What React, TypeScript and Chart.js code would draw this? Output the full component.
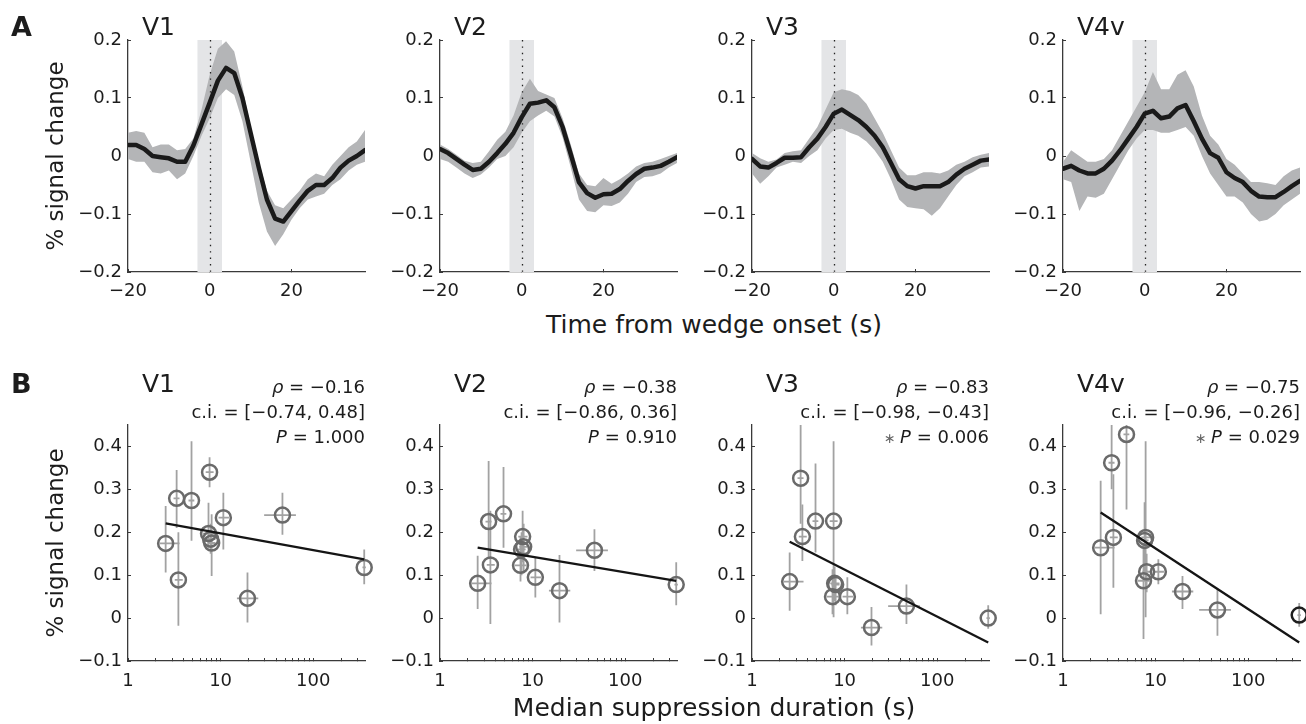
import React, { useEffect, useRef } from 'react';
import { Chart, registerables } from 'chart.js';

Chart.register(...registerables);

// ---------------- data ----------------
const AREAS = ['V1', 'V2', 'V3', 'V4v'];

// Panel A: event-related time courses
const TIME = [-20, -18, -16, -14, -12, -10, -8, -6, -4, -2, 0, 2, 4, 6, 8, 10, 12, 14, 16, 18, 20, 22, 24, 26, 28, 30, 32, 34, 36, 38];
const STIM_WINDOW = [-3, 3];
const WEDGE_ONSET = 0;
const TIME_TICKS = [-20, 0, 20];
const PSC_TICKS_A = [-0.2, -0.1, 0, 0.1, 0.2];

const V1_MEAN = [0.019, 0.019, 0.012, 0.0, -0.002, -0.004, -0.01, -0.01, 0.018, 0.055, 0.092, 0.13, 0.152, 0.143, 0.1, 0.04, -0.02, -0.075, -0.108, -0.113, -0.095, -0.077, -0.06, -0.05, -0.05, -0.038, -0.02, -0.008, 0.0, 0.01];
const V1_UPPER = [0.04, 0.043, 0.04, 0.015, 0.02, 0.02, 0.01, 0.012, 0.03, 0.08, 0.14, 0.185, 0.198, 0.18, 0.12, 0.05, -0.01, -0.06, -0.085, -0.09, -0.075, -0.06, -0.04, -0.03, -0.035, -0.015, 0.0, 0.015, 0.025, 0.045];
const V1_LOWER = [-0.005, -0.01, -0.01, -0.028, -0.03, -0.025, -0.04, -0.03, 0.0, 0.035, 0.065, 0.1, 0.115, 0.105, 0.06, -0.01, -0.08, -0.13, -0.155, -0.135, -0.11, -0.09, -0.075, -0.07, -0.065, -0.05, -0.04, -0.025, -0.015, -0.01];

const V2_MEAN = [0.012, 0.005, -0.005, -0.015, -0.024, -0.022, -0.01, 0.005, 0.021, 0.04, 0.067, 0.09, 0.092, 0.096, 0.084, 0.05, 0.003, -0.045, -0.064, -0.072, -0.066, -0.065, -0.057, -0.043, -0.031, -0.022, -0.02, -0.017, -0.01, -0.002];
const V2_UPPER = [0.02, 0.012, 0.002, -0.008, -0.012, -0.01, 0.008, 0.028, 0.042, 0.07, 0.11, 0.133, 0.112, 0.106, 0.1, 0.065, 0.02, -0.03, -0.05, -0.052, -0.038, -0.048, -0.04, -0.03, -0.018, -0.012, -0.01, -0.005, 0.0, 0.005];
const V2_LOWER = [-0.005, -0.01, -0.02, -0.03, -0.038, -0.032, -0.02, -0.005, 0.0, 0.015, 0.04, 0.06, 0.07, 0.078, 0.068, 0.032, -0.02, -0.075, -0.095, -0.097, -0.085, -0.086, -0.08, -0.065, -0.045, -0.036, -0.035, -0.03, -0.02, -0.012];

const V3_MEAN = [-0.005, -0.018, -0.02, -0.012, -0.003, -0.003, -0.002, 0.015, 0.03, 0.05, 0.073, 0.08, 0.071, 0.062, 0.05, 0.035, 0.015, -0.012, -0.04, -0.052, -0.056, -0.052, -0.052, -0.052, -0.045, -0.032, -0.022, -0.015, -0.008, -0.006];
const V3_UPPER = [0.005, -0.004, -0.01, -0.006, 0.005, 0.008, 0.01, 0.03, 0.05, 0.08, 0.11, 0.115, 0.112, 0.105, 0.09, 0.065, 0.04, 0.01, -0.02, -0.033, -0.033, -0.028, -0.028, -0.03, -0.025, -0.015, -0.01, -0.002, 0.002, 0.005];
const V3_LOWER = [-0.03, -0.048, -0.035, -0.02, -0.015, -0.01, -0.012, 0.0, 0.01, 0.03, 0.045, 0.047, 0.04, 0.035, 0.025, 0.01, -0.01, -0.04, -0.075, -0.088, -0.09, -0.092, -0.103, -0.09, -0.07, -0.05, -0.035, -0.028, -0.02, -0.018];

const V4_MEAN = [-0.022, -0.017, -0.025, -0.03, -0.03, -0.022, -0.008, 0.01, 0.03, 0.05, 0.073, 0.078, 0.065, 0.068, 0.082, 0.088, 0.06, 0.03, 0.005, -0.003, -0.028, -0.038, -0.045, -0.06, -0.07, -0.071, -0.071, -0.062, -0.052, -0.043];
const V4_UPPER = [-0.01, 0.01, 0.0, -0.01, -0.01, -0.005, 0.01, 0.035, 0.06, 0.085, 0.11, 0.145, 0.115, 0.115, 0.14, 0.148, 0.12, 0.07, 0.035, 0.02, -0.005, -0.015, -0.03, -0.045, -0.045, -0.047, -0.05, -0.035, -0.025, -0.02];
const V4_LOWER = [-0.04, -0.045, -0.095, -0.07, -0.072, -0.065, -0.04, -0.015, 0.01, 0.03, 0.045, 0.045, 0.04, 0.04, 0.045, 0.05, 0.035, 0.0, -0.03, -0.05, -0.07, -0.07, -0.08, -0.1, -0.113, -0.11, -0.1, -0.085, -0.075, -0.065];

// Panel B: signal change vs. median suppression duration (12 observers)
const DURATION = [2.55, 3.35, 3.5, 4.85, 7.4, 7.6, 7.8, 8.0, 10.7, 19.5, 46.5, 355];
const DURATION_LO = [2.2, 3.1, 3.2, 4.5, 6.4, 6.9, 7.0, 7.2, 9.5, 15, 29.5, 340];
const DURATION_HI = [3.6, 3.6, 3.9, 5.2, 8.6, 8.4, 8.8, 8.8, 12.3, 25.5, 65, 370];
const DURATION_TICKS = [1, 2, 3, 4, 5, 6, 7, 8, 9, 10, 20, 30, 40, 50, 60, 70, 80, 90, 100, 200, 300];
const DURATION_LABELS = [1, 10, 100];
const PSC_TICKS_B = [-0.1, 0, 0.1, 0.2, 0.3, 0.4];

const V1_PSC = [0.174, 0.279, 0.089, 0.274, 0.197, 0.34, 0.184, 0.175, 0.234, 0.046, 0.24, 0.118];
const V1_PSC_LO = [0.106, 0.21, -0.018, 0.18, 0.164, 0.305, 0.15, 0.098, 0.16, -0.01, 0.194, 0.079];
const V1_PSC_HI = [0.261, 0.345, 0.2, 0.412, 0.269, 0.375, 0.22, 0.242, 0.292, 0.106, 0.292, 0.16];

const V2_PSC = [0.081, 0.225, 0.124, 0.243, 0.123, 0.16, 0.19, 0.166, 0.095, 0.064, 0.158, 0.078];
const V2_PSC_LO = [0.021, 0.14, -0.014, 0.164, 0.085, 0.1, 0.13, 0.11, 0.048, -0.01, 0.11, 0.03];
const V2_PSC_HI = [0.145, 0.366, 0.25, 0.352, 0.19, 0.2, 0.25, 0.22, 0.14, 0.147, 0.207, 0.13];

const V3_PSC = [0.085, 0.326, 0.19, 0.226, 0.05, 0.226, 0.081, 0.078, 0.05, -0.022, 0.028, 0.0];
const V3_PSC_LO = [0.017, 0.22, 0.133, 0.153, 0.009, 0.002, 0.04, 0.03, 0.009, -0.064, -0.014, -0.025];
const V3_PSC_HI = [0.153, 0.46, 0.265, 0.36, 0.114, 0.412, 0.12, 0.1, 0.095, 0.026, 0.078, 0.03];

const V4_PSC = [0.164, 0.362, 0.188, 0.428, 0.087, 0.181, 0.188, 0.108, 0.108, 0.062, 0.019, 0.007];
const V4_PSC_LO = [0.009, 0.3, 0.071, 0.253, -0.049, 0.1, 0.002, 0.06, 0.079, 0.021, -0.041, -0.02];
const V4_PSC_HI = [0.32, 0.46, 0.335, 0.46, 0.172, 0.27, 0.412, 0.15, 0.137, 0.098, 0.067, 0.035];

const FIT_X = [2.55, 355];
const V1_FIT = [0.221, 0.137];
const V2_FIT = [0.164, 0.087];
const V3_FIT = [0.178, -0.057];
const V4_FIT = [0.246, -0.057];

const RHO = ['\u22120.16', '\u22120.38', '\u22120.83', '\u22120.75'];
const CI = ['[\u22120.74, 0.48]', '[\u22120.86, 0.36]', '[\u22120.98, \u22120.43]', '[\u22120.96, \u22120.26]'];
const PVAL = ['1.000', '0.910', '0.006', '0.029'];
const SIGNIFICANT = [false, false, true, true];

const TOP_MEAN = [V1_MEAN, V2_MEAN, V3_MEAN, V4_MEAN];
const TOP_UPPER = [V1_UPPER, V2_UPPER, V3_UPPER, V4_UPPER];
const TOP_LOWER = [V1_LOWER, V2_LOWER, V3_LOWER, V4_LOWER];
const B_PSC = [V1_PSC, V2_PSC, V3_PSC, V4_PSC];
const B_LO = [V1_PSC_LO, V2_PSC_LO, V3_PSC_LO, V4_PSC_LO];
const B_HI = [V1_PSC_HI, V2_PSC_HI, V3_PSC_HI, V4_PSC_HI];
const B_FIT = [V1_FIT, V2_FIT, V3_FIT, V4_FIT];

// ---------------- style / layout ----------------
const FONT = "'DejaVu Sans', sans-serif";
const INK = '#1c1c1c';
const AXIS = '#3a3a3a';
const BAND = '#b4b5b7';
const STIM = '#e4e5e7';
const MARKER = '#6a6a6a';
const ERRBAR = '#a2a2a2';

const PLOT_LEFT = [128, 440, 752, 1063];
const PLOT_W = 237;
const TOP_CANVAS_H = 310;
const TOP_PLOT_TOP = 40;
const TOP_PLOT_BOTTOM = 272;
const BOT_CANVAS_TOP = 340;
const BOT_CANVAS_H = 384;
const BOT_PLOT_TOP = 425;
const BOT_PLOT_BOTTOM = 661;

function fmt(v: number): string {
  if (v === 0) return '0';
  return (v < 0 ? '\u2212' : '') + String(Math.abs(v));
}

type Run = { text: string; italic?: boolean; color?: string; size?: number };

function drawRunsRight(ctx: CanvasRenderingContext2D, runs: Run[], right: number, baseline: number, size: number) {
  const fontOf = (r: Run) => `${r.italic ? 'italic ' : ''}${r.size || size}px ${FONT}`;
  let total = 0;
  runs.forEach((r) => {
    ctx.font = fontOf(r);
    total += ctx.measureText(r.text).width;
  });
  let x = right - total;
  runs.forEach((r) => {
    ctx.font = fontOf(r);
    ctx.fillStyle = r.color || INK;
    ctx.fillText(r.text, x, baseline);
    x += ctx.measureText(r.text).width;
  });
}

function textPlugin(i: number, row: 'A' | 'B') {
  return {
    id: 'panelText',
    afterDraw(chart: any) {
      const { ctx, chartArea } = chart;
      ctx.save();
      ctx.textBaseline = 'alphabetic';
      ctx.textAlign = 'left';
      ctx.fillStyle = INK;
      ctx.font = `25px ${FONT}`;
      const titleBase = row === 'A' ? chartArea.top - 5 : chartArea.top - 33;
      ctx.fillText(AREAS[i], chartArea.left + 14, titleBase);
      if (i === 0) {
        ctx.font = `bold 27px ${FONT}`;
        ctx.fillText(row, 11, row === 'A' ? 36 : 53);
      }
      if (row === 'B') {
        const r = chartArea.right;
        const t = chartArea.top;
        drawRunsRight(ctx, [{ text: '\u03c1', italic: true }, { text: ' = ' + RHO[i] }], r, t - 32, 18);
        drawRunsRight(ctx, [{ text: 'c.i. = ' + CI[i] }], r, t - 7, 18);
        const pRuns: Run[] = [];
        if (SIGNIFICANT[i]) pRuns.push({ text: '\u2217 ', color: '#666', size: 14 });
        pRuns.push({ text: 'P', italic: true }, { text: ' = ' + PVAL[i] });
        drawRunsRight(ctx, pRuns, r, t + 18, 18);
      }
      ctx.restore();
    },
  };
}

const stimPlugin = {
  id: 'stimWindow',
  beforeDatasetsDraw(chart: any) {
    const { ctx, chartArea, scales } = chart;
    const x0 = scales.x.getPixelForValue(STIM_WINDOW[0]);
    const x1 = scales.x.getPixelForValue(STIM_WINDOW[1]);
    ctx.save();
    ctx.fillStyle = STIM;
    ctx.fillRect(x0, chartArea.top, x1 - x0, chartArea.bottom - chartArea.top);
    ctx.restore();
  },
  beforeDatasetDraw(chart: any, args: any) {
    if (args.index !== 2) return;
    const { ctx, chartArea, scales } = chart;
    const x = Math.round(scales.x.getPixelForValue(WEDGE_ONSET)) + 0.5;
    ctx.save();
    ctx.strokeStyle = '#222';
    ctx.lineWidth = 1.3;
    ctx.setLineDash([1.4, 5]);
    ctx.beginPath();
    ctx.moveTo(x, chartArea.top);
    ctx.lineTo(x, chartArea.bottom);
    ctx.stroke();
    ctx.restore();
  },
};

function errorBarPlugin(i: number) {
  return {
    id: 'errorBars',
    beforeDatasetsDraw(chart: any) {
      const { ctx, chartArea, scales } = chart;
      ctx.save();
      ctx.beginPath();
      ctx.rect(chartArea.left, chartArea.top, chartArea.right - chartArea.left + 20, chartArea.bottom - chartArea.top);
      ctx.clip();
      ctx.strokeStyle = ERRBAR;
      ctx.lineWidth = 1.8;
      DURATION.forEach((d, k) => {
        const px = scales.x.getPixelForValue(d);
        const py = scales.y.getPixelForValue(B_PSC[i][k]);
        ctx.beginPath();
        ctx.moveTo(px, scales.y.getPixelForValue(B_LO[i][k]));
        ctx.lineTo(px, scales.y.getPixelForValue(B_HI[i][k]));
        ctx.moveTo(scales.x.getPixelForValue(DURATION_LO[k]), py);
        ctx.lineTo(scales.x.getPixelForValue(DURATION_HI[k]), py);
        ctx.stroke();
      });
      ctx.restore();
    },
  };
}

function axisCommon(ticks: number[], fixSize: (s: any) => void, isX: boolean) {
  return {
    afterBuildTicks: (s: any) => {
      s.ticks = ticks.map((v) => ({ value: v }));
    },
    afterFit: fixSize,
    grid: { drawOnChartArea: false, drawTicks: true, tickLength: -3, color: AXIS, lineWidth: 1 },
    border: { color: AXIS, width: 1.3 },
    ticks: {
      padding: isX ? 12 : 9,
      autoSkip: false,
      maxRotation: 0,
      minRotation: 0,
      color: INK,
      font: { family: FONT, size: 18 },
    },
  };
}

function topConfig(i: number, yWidth: number): any {
  const pts = (arr: number[]) => TIME.map((t, k) => ({ x: t, y: arr[k] }));
  const xAxis: any = axisCommon(TIME_TICKS, (s: any) => { s.height = TOP_CANVAS_H - TOP_PLOT_BOTTOM; }, true);
  xAxis.ticks.callback = (v: number) => fmt(v);
  const yAxis: any = axisCommon(PSC_TICKS_A, (s: any) => { s.width = yWidth; }, false);
  yAxis.ticks.callback = (v: number) => fmt(v);
  if (i === 0) {
    yAxis.title = { display: true, text: '% signal change', color: INK, font: { family: FONT, size: 23 }, padding: { top: 43, bottom: 0 } };
  }
  return {
    type: 'line',
    data: {
      datasets: [
        { data: pts(TOP_UPPER[i]), borderWidth: 0, pointRadius: 0, fill: '+1', backgroundColor: BAND, order: 1 },
        { data: pts(TOP_LOWER[i]), borderWidth: 0, pointRadius: 0, fill: false, order: 1 },
        { data: pts(TOP_MEAN[i]), borderColor: '#1a1a1a', borderWidth: 4.5, pointRadius: 0, fill: false, borderJoinStyle: 'round', borderCapStyle: 'round', order: 0 },
      ],
    },
    options: {
      responsive: false,
      animation: false,
      events: [],
      layout: { padding: { top: TOP_PLOT_TOP, right: 4, left: 0, bottom: 0 } },
      plugins: { legend: { display: false }, tooltip: { enabled: false }, title: { display: false } },
      scales: {
        x: { type: 'linear', min: TIME_TICKS[0], max: TIME[TIME.length - 1], ...xAxis },
        y: { type: 'linear', min: PSC_TICKS_A[0], max: PSC_TICKS_A[PSC_TICKS_A.length - 1], ...yAxis },
      },
    },
    plugins: [stimPlugin, textPlugin(i, 'A')],
  };
}

function bottomConfig(i: number, yWidth: number): any {
  const xAxis: any = axisCommon(DURATION_TICKS, (s: any) => { s.height = BOT_CANVAS_H - (BOT_PLOT_BOTTOM - BOT_CANVAS_TOP); }, true);
  xAxis.ticks.callback = (v: number) => (DURATION_LABELS.includes(v) ? String(v) : '');
  xAxis.ticks.padding = 13;
  const yAxis: any = axisCommon(PSC_TICKS_B, (s: any) => { s.width = yWidth; }, false);
  yAxis.ticks.callback = (v: number) => fmt(v);
  if (i === 0) {
    yAxis.title = { display: true, text: '% signal change', color: INK, font: { family: FONT, size: 23 }, padding: { top: 43, bottom: 0 } };
  }
  const colors = DURATION.map((_, k) => (i === 3 && k === DURATION.length - 1 ? '#1e1e1e' : MARKER));
  return {
    type: 'scatter',
    data: {
      datasets: [
        { type: 'line', data: FIT_X.map((x, k) => ({ x, y: B_FIT[i][k] })), borderColor: '#151515', borderWidth: 2.3, pointRadius: 0, fill: false },
        {
          data: DURATION.map((d, k) => ({ x: d, y: B_PSC[i][k] })),
          pointStyle: 'circle',
          pointRadius: 7.5,
          pointBorderWidth: 2.5,
          pointBorderColor: colors,
          pointBackgroundColor: 'rgba(0,0,0,0)',
          showLine: false,
          clip: false,
        },
      ],
    },
    options: {
      responsive: false,
      animation: false,
      events: [],
      layout: { padding: { top: BOT_PLOT_TOP - BOT_CANVAS_TOP, right: 12, left: 0, bottom: 0 } },
      plugins: { legend: { display: false }, tooltip: { enabled: false }, title: { display: false } },
      scales: {
        x: { type: 'logarithmic', min: 1, max: 362, ...xAxis },
        y: { type: 'linear', min: -0.1, max: 0.45, ...yAxis },
      },
    },
    plugins: [errorBarPlugin(i), textPlugin(i, 'B')],
  };
}

function ChartCanvas({ left, top, width, height, make }: { left: number; top: number; width: number; height: number; make: () => any }) {
  const ref = useRef<HTMLCanvasElement | null>(null);
  useEffect(() => {
    if (!ref.current) return;
    const chart = new Chart(ref.current, make());
    return () => chart.destroy();
  }, []);
  return (
    <canvas
      ref={ref}
      width={width}
      height={height}
      style={{ position: 'absolute', left, top, width, height, display: 'block' }}
    />
  );
}

export default function App() {
  const panels = AREAS.map((_, i) => {
    const L = PLOT_LEFT[i];
    const canvasLeft = i === 0 ? 0 : L - 90;
    const yWidth = L - canvasLeft;
    return (
      <React.Fragment key={i}>
        <ChartCanvas left={canvasLeft} top={0} width={yWidth + PLOT_W + 4} height={TOP_CANVAS_H} make={() => topConfig(i, yWidth)} />
        <ChartCanvas
          left={canvasLeft}
          top={BOT_CANVAS_TOP}
          width={yWidth + PLOT_W + 12}
          height={BOT_CANVAS_H}
          make={() => bottomConfig(i, yWidth)}
        />
      </React.Fragment>
    );
  });
  const labelStyle: React.CSSProperties = {
    position: 'absolute',
    left: 714 - 300,
    width: 600,
    textAlign: 'center',
    fontFamily: FONT,
    fontSize: 25,
    lineHeight: '25px',
    color: INK,
    whiteSpace: 'nowrap',
  };
  return (
    <div style={{ position: 'absolute', left: 0, top: 0, width: 1306, height: 724, overflow: 'hidden', background: '#fff' }}>
      {panels}
      <div style={{ ...labelStyle, top: 312 }}>Time from wedge onset (s)</div>
      <div style={{ ...labelStyle, top: 695 }}>Median suppression duration (s)</div>
    </div>
  );
}
